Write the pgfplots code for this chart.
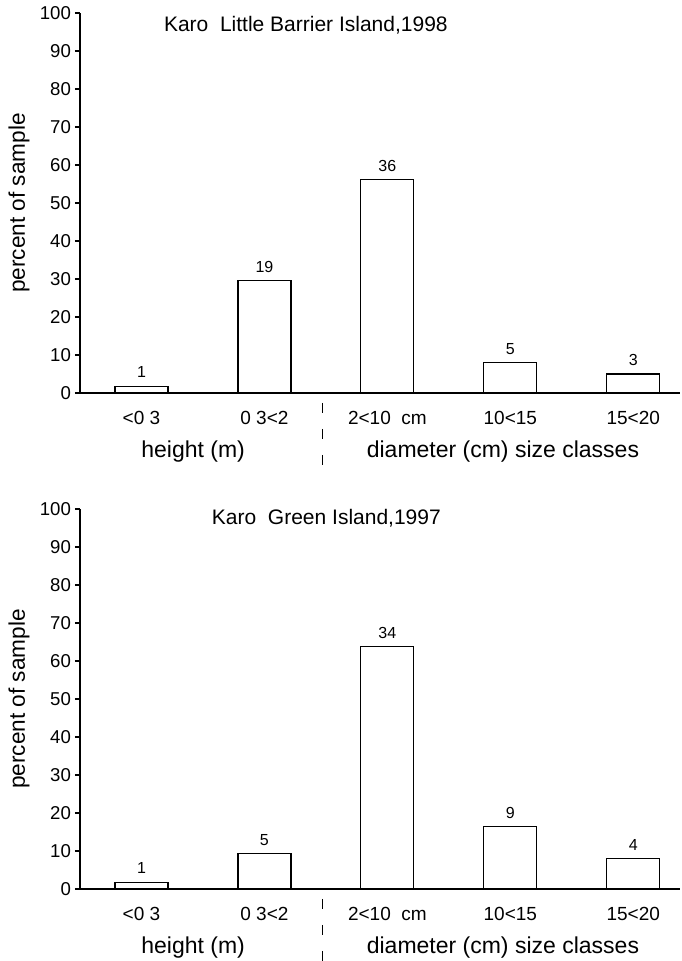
\documentclass[border=0pt]{standalone}
\usepackage{fontspec}
\setmainfont{Liberation Sans}
\usepackage{pgfplots}
\pgfplotsset{compat=1.18}

% shared look of both panels (1 px of the scan = 0.5pt)
\pgfplotsset{
  karo/.style={
    scale only axis, width=300pt, height=190pt,
    xmin=-0.5, xmax=4.38, ymin=0, ymax=100,
    axis lines=left, axis line style={-, line width=0.8pt},
    ytick={0,10,...,100}, xtick={0,...,4},
    xticklabels={{<0 3},{0 3<2},{2<10\ \ cm},{10<15},{15<20}},
    x tick style={draw=none},
    y tick style={line width=0.6pt, black},
    tick align=outside, major tick length=2.5pt,
    /pgf/number format/assume math mode=true,
    yticklabel style={font=\fontsize{9.3}{10}\selectfont, xshift=1.5pt},
    xticklabel style={font=\fontsize{9.5}{11}\selectfont, yshift=-3pt},
    ylabel={percent of sample},
    ylabel style={font=\fontsize{11.3}{13}\selectfont,
      at={(axis description cs:-0.1017,0.5)}, anchor=center},
    ybar, bar width=26.5pt,
    clip=false,
    nodes near coords, point meta=explicit symbolic,
    every node near coord/.append style={font=\fontsize{8}{9}\selectfont, yshift=0.5pt},
  },
}
\tikzset{
  grouplabel/.style={font=\fontsize{11.5}{13}\selectfont},
  bartitle/.style={anchor=west, inner sep=0pt, font=\fontsize{10.5}{12}\selectfont},
}

\begin{document}
\begin{tikzpicture}
\useasboundingbox (-40pt,-284pt) rectangle (300.5pt,196.5pt);

% Little Barrier Island
\begin{axis}[karo, at={(0,0)}, anchor=south west]
\addplot[draw=black, fill=white, line width=0.6pt] coordinates {
  (0,1.8) [1]
  (1,29.6) [19]
  (2,56.2) [36]
  (3,8.0) [5]
  (4,5.0) [3]
};
\node[bartitle] at (axis cs:0.18,96.7) {Karo\ \ Little Barrier Island,1998};
\node[grouplabel] at (axis cs:0.42,-15.3) {height (m)};
\node[grouplabel] at (axis cs:2.94,-15.3) {diameter (cm) size classes};
\draw[line width=0.7pt, dash pattern=on 5pt off 8pt] (axis cs:1.47,-2.6) -- (axis cs:1.47,-19.5);
\end{axis}

% Green Island
\begin{axis}[karo, at={(0,-248pt)}, anchor=south west]
\addplot[draw=black, fill=white, line width=0.6pt] coordinates {
  (0,1.8) [1]
  (1,9.3) [5]
  (2,63.8) [34]
  (3,16.4) [9]
  (4,8.0) [4]
};
\node[bartitle] at (axis cs:0.57,97.6) {Karo\ \ Green Island,1997};
\node[grouplabel] at (axis cs:0.42,-15.3) {height (m)};
\node[grouplabel] at (axis cs:2.94,-15.3) {diameter (cm) size classes};
\draw[line width=0.7pt, dash pattern=on 5pt off 8pt] (axis cs:1.47,-2.6) -- (axis cs:1.47,-19.5);
\end{axis}
\end{tikzpicture}
\end{document}
